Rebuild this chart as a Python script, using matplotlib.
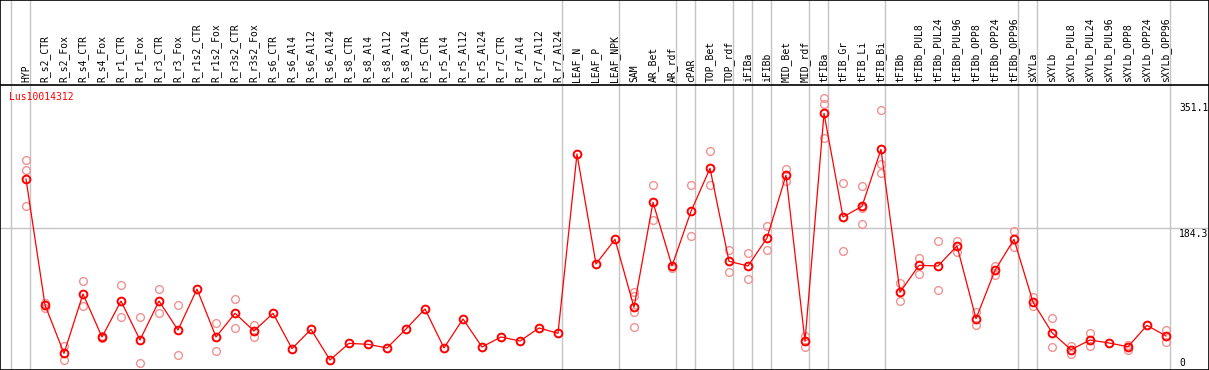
import matplotlib
matplotlib.use("Agg")
import matplotlib.pyplot as plt

categories = ["HYP", "R_s2_CTR", "R_s2_Fox", "R_s4_CTR", "R_s4_Fox", "R_r1_CTR", "R_r1_Fox",
              "R_r3_CTR", "R_r3_Fox", "R_r1s2_CTR", "R_r1s2_Fox", "R_r3s2_CTR", "R_r3s2_Fox",
              "R_s6_CTR", "R_s6_Al4", "R_s6_Al12", "R_s6_Al24", "R_s8_CTR", "R_s8_Al4",
              "R_s8_Al12", "R_s8_Al24", "R_r5_CTR", "R_r5_Al4", "R_r5_Al12", "R_r5_Al24",
              "R_r7_CTR", "R_r7_Al4", "R_r7_Al12", "R_r7_Al24", "LEAF_N", "LEAF_P", "LEAF_NPK",
              "SAM", "AR_Bet", "AR_rdf", "cPAR", "TOP_Bet", "TOP_rdf", "iFIBa", "iFIBb",
              "MID_Bet", "MID_rdf", "tFIBa", "tFIB_Gr", "tFIB_Li", "tFIB_Bi", "tFIBb",
              "tFIBb_PUL8", "tFIBb_PUL24", "tFIBb_PUL96", "tFIBb_OPP8", "tFIBb_OPP24",
              "tFIBb_OPP96", "sXYLa", "sXYLb", "sXYLb_PUL8", "sXYLb_PUL24", "sXYLb_PUL96",
              "sXYLb_OPP8", "sXYLb_OPP24", "sXYLb_OPP96"]

means = [249.4, 83, 19.1, 97.5, 40.7, 88.2, 36.7, 88.2, 49.9, 104, 40.7, 72, 48.6, 72, 25.3,
         50.8, 10.3, 32.3, 31, 26.2, 51.3, 77.7, 26.2, 64.5, 27.5, 40.7, 35.4, 52.6, 45.6,
         282.4, 137.1, 169.7, 79.9, 218.6, 134.5, 206.7, 263.5, 140.7, 134.5, 171.5, 254.3,
         35, 336.2, 199.2, 213.3, 288.6, 99.7, 135.4, 134.5, 160.9, 64.9, 128.8, 169.7, 86.9,
         46.4, 23.9, 36.7, 32.8, 27.9, 56.1, 42]

replicates = [
    [274.5, 261.3, 213.7], [86, 78.6], [28.8, 10.3], [114.7, 81.2], [38.9, 42],
    [109.4, 66.7], [66.7, 5.9], [103.7, 72], [83, 16.5], [], [58.8, 21.8], [90.5, 52.2],
    [56.5, 41.1], [], [], [], [], [], [], [], [], [], [], [], [], [], [], [], [], [], [], [],
    [100.5, 95.2, 74.1, 53.5], [241.1, 194.8], [132.2], [241.1, 174.1], [286, 241.1],
    [155.6, 126.6], [151.7, 116.9], [187.3, 155.2], [262.6, 247.2], [42, 27],
    [356, 348.5, 303.2], [243.7, 153.9], [239.8, 210.7, 189.6], [340.1, 269.2, 256.9],
    [111.6, 87.8], [145.5, 123.5], [167.1, 102.4], [167.1, 153], [74.1, 56.1],
    [134.5, 122.2], [180.3, 159.2], [93.5, 81.6], [65.4, 27.5], [28.8, 18.2],
    [45.6, 28.4], [], [30.5, 23.9], [], [49.9, 33.7]]

group_ends = [-1, 0, 28, 31, 34, 35, 37, 38, 39, 41, 42, 45, 52, 53, 60]
y_ticks = [351.1, 184.3, 0]
title = "Lus10014312"

W, H = 1209, 370
fig = plt.figure(figsize=(W / 100, H / 100), dpi=100)
ax = fig.add_axes([0, 0, 1, 1])

# pixel mapping
x0, dx = 26.0, 19.0
y0, sy = 367.8, 0.757
ax.set_xlim((0 - x0) / dx, (W - x0) / dx)
ax.set_ylim((y0 - H) / sy, (y0 - 0) / sy)
ax.set_xticks([])
ax.set_yticks([])
for s in ax.spines.values():
    s.set_color("black")
    s.set_linewidth(1.2)

grid_c = "#c4c4c4"
for g in group_ends:
    ax.axvline(g + 0.23, color=grid_c, lw=1.0, zorder=1)
ax.axhline(184.3, color=grid_c, lw=1.0, zorder=1)
ax.axhline((y0 - 85) / sy, color="black", lw=1.2, zorder=2)

xs = list(range(len(categories)))
rx, ry = [], []
for i, reps in enumerate(replicates):
    for v in reps:
        rx.append(i)
        ry.append(v)
ax.plot(rx, ry, ls="none", marker="o", ms=5.6, mfc="none", mec="#f09393", mew=1.0, zorder=3)
ax.plot(xs, means, color="#ff0000", lw=0.9, zorder=4)
ax.plot(xs, means, ls="none", marker="o", ms=5.6, mfc="none", mec="#ff0000", mew=1.4, zorder=5)

mono = "DejaVu Sans Mono"
label_y = (y0 - 82.5) / sy
for i, c in enumerate(categories):
    ax.text(i, label_y, c, rotation=90, ha="center", va="bottom", fontsize=7,
            family=mono, color="black", zorder=6)

ax.text((9.5 - x0) / dx, (y0 - 97) / sy, title, ha="left", va="center", fontsize=7,
        family=mono, color="#ff0000", zorder=6)

tx = (1179 - x0) / dx
for v in y_ticks:
    if v == 0:
        ax.text(tx, 2.8, "0", ha="left", va="baseline", fontsize=7, family=mono)
    else:
        ax.text(tx, v - 1.0, f"{v:.1f}", ha="left", va="top", fontsize=7, family=mono)

fig.savefig("out.png", dpi=100)
